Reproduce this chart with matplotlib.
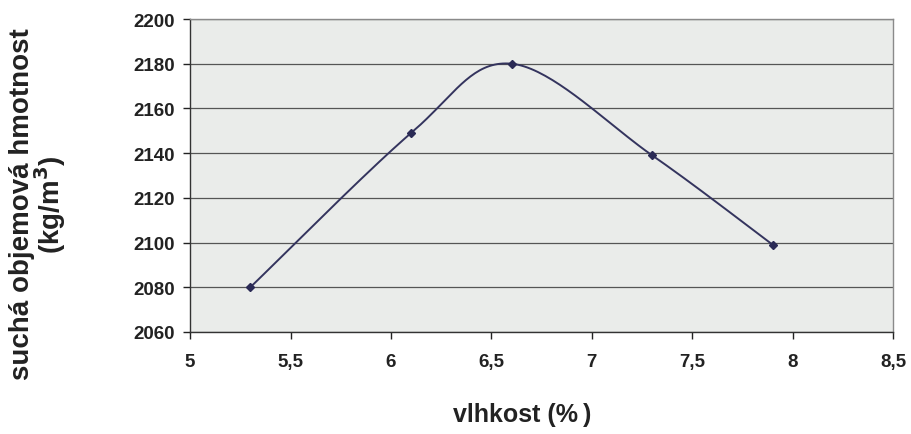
import numpy as np
import matplotlib
matplotlib.use('Agg')
import matplotlib.pyplot as plt

# data
vlhkost = [5.3, 6.1, 6.6, 7.3, 7.9]
hmotnost = [2080, 2149, 2180, 2139, 2099]
x_ticks = [5, 5.5, 6, 6.5, 7, 7.5, 8, 8.5]
y_ticks = [2060, 2080, 2100, 2120, 2140, 2160, 2180, 2200]


def excel_smooth(xs, ys, n=40):
    # Catmull-Rom like Excel "smoothed line" curve through the points
    xs = np.asarray(xs, float)
    ys = np.asarray(ys, float)
    px = np.concatenate([[xs[0]], xs, [xs[-1]]])
    py = np.concatenate([[ys[0]], ys, [ys[-1]]])
    out_x, out_y = [], []
    for i in range(1, len(px) - 2):
        p0 = np.array([px[i], py[i]])
        p3 = np.array([px[i + 1], py[i + 1]])
        c1 = p0 + (np.array([px[i + 1], py[i + 1]]) - np.array([px[i - 1], py[i - 1]])) / 6
        c2 = p3 - (np.array([px[i + 2], py[i + 2]]) - np.array([px[i], py[i]])) / 6
        t = np.linspace(0, 1, n)[:, None]
        b = ((1 - t) ** 3) * p0 + 3 * ((1 - t) ** 2) * t * c1 + 3 * (1 - t) * t ** 2 * c2 + t ** 3 * p3
        out_x.extend(b[:, 0])
        out_y.extend(b[:, 1])
    return out_x, out_y


plt.rcParams['font.family'] = ['Liberation Sans', 'DejaVu Sans']
plt.rcParams['font.weight'] = 'bold'

fig = plt.figure(figsize=(9.11, 4.35), dpi=100)
ax = fig.add_axes([0.2086, 0.2345, 0.772, 0.7195])
ax.set_facecolor('#eaecea')

sx, sy = excel_smooth(vlhkost, hmotnost)
ax.plot(sx, sy, color='#34345e', lw=1.4, zorder=3)
ax.plot(vlhkost, hmotnost, linestyle='none', marker='D', ms=4.5,
        color='#2a2a55', zorder=4)

ax.set_xlim(5, 8.5)
ax.set_ylim(2060, 2200)
ax.set_xticks(x_ticks)
ax.set_xticklabels([str(v).replace('.', ',') for v in x_ticks])
ax.set_yticks(y_ticks)
ax.yaxis.grid(True, color='#555555', lw=0.9)
ax.set_axisbelow(True)

for s in ax.spines.values():
    s.set_color('#8a8a8a')
    s.set_linewidth(1.0)
ax.spines['bottom'].set_color('#333333')
ax.spines['left'].set_color('#333333')

ax.tick_params(axis='both', labelsize=13.5, colors='#222222', length=5, width=1)
ax.tick_params(axis='x', pad=10)
ax.tick_params(axis='y', pad=6)

fig.text(0.573, 0.045, 'vlhkost (%\u2009)', ha='center', va='center',
         fontsize=18, fontweight='bold', color='#222222')
fig.text(0.042, 0.53, 'suchá objemová hmotnost\n(kg/m$^3$)', ha='center', va='center',
         rotation=90, fontsize=20, fontweight='bold', color='#222222',
         linespacing=0.9)

fig.savefig('out.png', dpi=100)
